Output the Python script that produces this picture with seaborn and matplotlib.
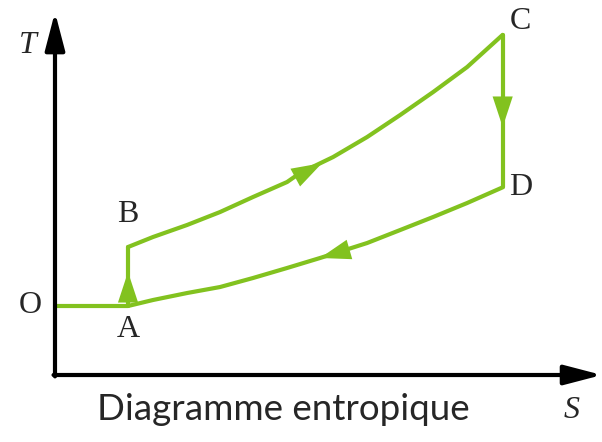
import numpy as np
import pandas as pd
import seaborn as sns
import matplotlib.pyplot as plt

sns.set_style("white")

# cycle points (S, T)
hot_s = [1.0, 1.342, 1.808, 2.260, 2.712, 3.178, 3.356, 3.808, 4.274, 4.726, 5.178, 5.644, 6.13]
hot_t = [1.855, 2.0, 2.174, 2.362, 2.580, 2.797, 2.928, 3.159, 3.449, 3.768, 4.101, 4.464, 4.93]
cold_s = [6.13, 5.644, 5.178, 4.726, 4.274, 3.630, 3.178, 2.712, 2.260, 1.808, 1.342, 1.0]
cold_t = [2.72, 2.493, 2.290, 2.101, 1.913, 1.696, 1.551, 1.406, 1.275, 1.188, 1.087, 1.0]
pts = {"O": (0.0, 1.0), "A": (1.0, 1.0), "B": (1.0, 1.855), "C": (6.13, 4.93), "D": (6.13, 2.72)}

# direction arrows: (tip, base)
heads = [
    ((1.0, 1.493), (1.0, 1.087)),
    ((6.13, 3.594), (6.13, 3.986)),
    ((3.658, 3.072), (3.356, 2.899)),
    ((3.630, 1.696), (4.055, 1.826)),
]

green = "#82c21f"

fig = plt.figure(figsize=(6.02, 4.42), dpi=100)
ax = fig.add_axes([0, 0, 1, 1])
ax.set_xlim(-0.753, 7.49)
ax.set_ylim(-0.971, 5.435)
ax.axis("off")

segs = [
    pd.DataFrame({"S": [pts["O"][0], pts["A"][0]], "T": [pts["O"][1], pts["A"][1]]}),
    pd.DataFrame({"S": [pts["A"][0], pts["B"][0]], "T": [pts["A"][1], pts["B"][1]]}),
    pd.DataFrame({"S": hot_s, "T": hot_t}),
    pd.DataFrame({"S": [pts["C"][0], pts["D"][0]], "T": [pts["C"][1], pts["D"][1]]}),
    pd.DataFrame({"S": cold_s, "T": cold_t}),
]
for d in segs:
    sns.lineplot(data=d, x="S", y="T", sort=False, estimator=None, color=green,
                 lw=3, ax=ax, solid_joinstyle="miter")

for tip, base in heads:
    # start further back so the head gets its full size
    start = (tip[0] - 2 * (tip[0] - base[0]), tip[1] - 2 * (tip[1] - base[1]))
    ax.annotate("", xy=tip, xytext=start,
                arrowprops=dict(arrowstyle="-|>,head_length=1.0,head_width=0.33",
                                color=green, lw=0, mutation_scale=22,
                                shrinkA=0, shrinkB=0))

# axes with arrows
axis_style = "-|>,head_length=1.15,head_width=0.3"
ax.annotate("", xy=(0, 5.26), xytext=(0, -0.02),
            arrowprops=dict(arrowstyle=axis_style, color="black", lw=3, mutation_scale=20,
                            shrinkA=0, shrinkB=0))
ax.annotate("", xy=(7.49, 0), xytext=(-0.02, 0),
            arrowprops=dict(arrowstyle=axis_style, color="black", lw=3, mutation_scale=20,
                            shrinkA=0, shrinkB=0))

serif = "Liberation Serif"
ax.text(-0.37, 4.78, "T", fontsize=23, family=serif, style="italic", ha="center", va="center")
ax.text(7.08, -0.51, "S", fontsize=23, family=serif, style="italic", ha="center", va="center")
ax.text(-0.34, 1.01, "O", fontsize=23, family=serif, ha="center", va="center")
ax.text(1.0, 0.66, "A", fontsize=23, family=serif, ha="center", va="center")
ax.text(1.0, 2.33, "B", fontsize=23, family=serif, ha="center", va="center")
ax.text(6.37, 5.12, "C", fontsize=23, family=serif, ha="center", va="center")
ax.text(6.37, 2.72, "D", fontsize=23, family=serif, ha="center", va="center")

ax.text(3.12, -0.50, "Diagramme entropique", fontsize=26.5, family="Lato",
        ha="center", va="center")

fig.savefig("out.png", dpi=100)
